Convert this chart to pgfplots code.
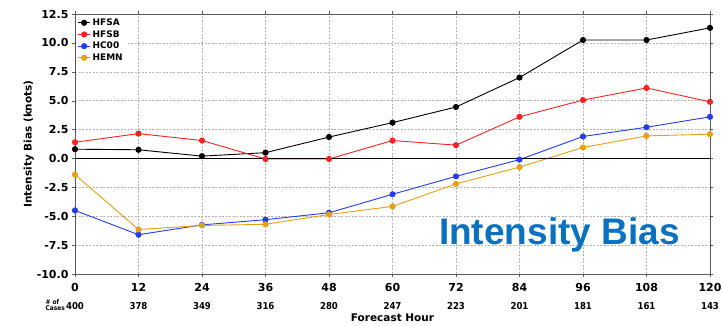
\documentclass[border=0pt]{standalone}
\usepackage{pgfplots}
\pgfplotsset{compat=1.18}
\usepackage{fontspec}
\setmainfont{DejaVu Sans}
\newfontfamily\cond{DejaVu Sans Condensed}
\newfontfamily\arialf{Liberation Sans}
\definecolor{cA}{RGB}{0,0,0}
\definecolor{cB}{RGB}{245,35,35}
\definecolor{cC}{RGB}{35,60,245}
\definecolor{cD}{RGB}{230,160,20}
\definecolor{titleblue}{RGB}{10,112,192}
\newcommand\cs[1]{{\cond\bfseries\fontsize{9.5}{10}\selectfont #1}}
\begin{document}
\begin{tikzpicture}
\begin{axis}[
  name=ax,
  scale only axis,
  width=635pt, height=260pt,
  xmin=0, xmax=120, ymin=-10, ymax=12.5,
  xtick={0,12,...,120},
  ytick={-10,-7.5,...,12.5},
  xticklabels={
    0\\[5pt]\cs{400},
    12\\[5pt]\cs{378},
    24\\[5pt]\cs{349},
    36\\[5pt]\cs{316},
    48\\[5pt]\cs{280},
    60\\[5pt]\cs{247},
    72\\[5pt]\cs{223},
    84\\[5pt]\cs{201},
    96\\[5pt]\cs{181},
    108\\[5pt]\cs{161},
    120\\[5pt]\cs{143}},
  xticklabel style={align=center, font=\bfseries\fontsize{11}{13}\selectfont, yshift=-3pt},
  yticklabel style={font=\bfseries\fontsize{11}{13}\selectfont, /pgf/number format/fixed, /pgf/number format/fixed zerofill, /pgf/number format/precision=1},
  /pgf/number format/assume math mode=true,
  tick align=outside,
  major tick length=3pt,
  tick style={gray!70!black},
  axis line style={gray!70!black, line width=0.8pt},
  grid=major,
  major grid style={gray!60, dash pattern=on 2pt off 1.5pt, line width=0.4pt},
  xlabel={\bfseries Forecast Hour},
  ylabel={\bfseries Intensity Bias (knots)},
  xlabel style={font=\bfseries\fontsize{10.5}{12}\selectfont, yshift=3pt},
  ylabel style={font=\bfseries\fontsize{10.5}{12}\selectfont, yshift=-4pt},
  legend style={at={(0,1)}, anchor=north west, draw=none, fill=white, font=\bfseries\fontsize{9}{10}\selectfont, row sep=-0.5pt, inner sep=1.5pt, xshift=1pt, yshift=-1pt},
  legend image code/.code={\draw[#1, mark repeat=2, mark phase=2] plot coordinates {(0pt,0pt) (6pt,0pt) (12pt,0pt)};},
  legend cell align=left,
  every axis plot/.append style={line width=0.9pt, mark=*, mark size=2.6pt},
]
\addplot[cA, mark options={fill=cA}] coordinates {(0,0.8) (12,0.75) (24,0.2) (36,0.5) (48,1.85) (60,3.1) (72,4.45) (84,7.0) (96,10.25) (108,10.25) (120,11.3)};
\addlegendentry{HFSA}
\addplot[cB, mark options={fill=cB}] coordinates {(0,1.4) (12,2.15) (24,1.55) (36,-0.05) (48,-0.05) (60,1.55) (72,1.15) (84,3.6) (96,5.05) (108,6.1) (120,4.9)};
\addlegendentry{HFSB}
\addplot[cC, mark options={fill=cC}] coordinates {(0,-4.5) (12,-6.6) (24,-5.75) (36,-5.3) (48,-4.7) (60,-3.1) (72,-1.55) (84,-0.1) (96,1.9) (108,2.7) (120,3.6)};
\addlegendentry{HC00}
\addplot[cD, mark options={fill=cD}] coordinates {(0,-1.4) (12,-6.15) (24,-5.8) (36,-5.7) (48,-4.85) (60,-4.15) (72,-2.2) (84,-0.75) (96,0.95) (108,1.95) (120,2.1)};
\addlegendentry{HEMN}
\draw[black, line width=1pt] (axis cs:0,0) -- (axis cs:120,0);
\node[anchor=base east, font=\arialf\bfseries\fontsize{37}{40}\selectfont, text=titleblue, inner sep=0pt] at (axis cs:114.3,-7.45) {Intensity Bias};
\end{axis}
\node[font=\cond\bfseries\fontsize{6.5}{6.5}\selectfont, align=left, anchor=east, inner sep=0pt] at ([xshift=-10pt,yshift=-31pt]ax.south west) {\#\ of\\Cases};
\pgfresetboundingbox
\path ([xshift=-75pt,yshift=-52pt]ax.south west) rectangle ([xshift=13pt,yshift=14pt]ax.north east);
\end{tikzpicture}
\end{document}
